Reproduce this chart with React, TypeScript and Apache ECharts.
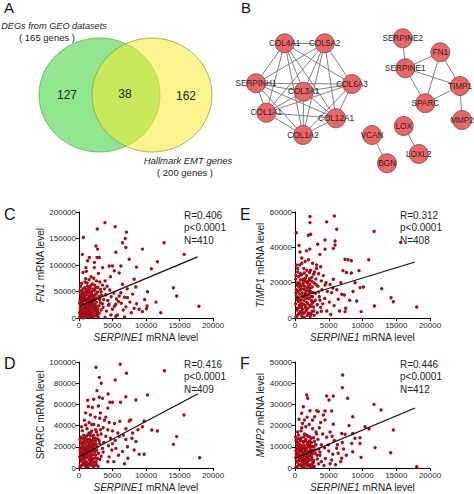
import React, { useEffect, useRef } from "react";
import * as echarts from "echarts";

const FONT = 'Arial, "Liberation Sans", Helvetica, sans-serif';

// ---------- Panel A: Venn ----------
const vennLeftTitle = "DEGs from GEO datasets";
const vennLeftSub = "( 165 genes )";
const vennRightTitle = "Hallmark EMT genes";
const vennRightSub = "( 200 genes )";
const vennCounts = [127, 38, 162];

// ---------- Panel B: network ----------
const nodeNames = ["COL4A1", "COL5A2", "SERPINH1", "COL3A1", "COL6A3", "COL1A1", "COL12A1", "COL1A2", "SERPINE2", "FN1", "SERPINE1", "TIMP1", "SPARC", "MMP2", "LOX", "LOXL2", "VCAN", "BGN"];
const nodeX = [284.7, 324.7, 256, 303.7, 352, 266.3, 336, 303, 402.7, 440.3, 405.3, 460, 425.3, 462, 403.7, 418.7, 372, 387];
const nodeY = [43.3, 43.3, 83.3, 91.7, 84, 112.7, 118.3, 135, 38.3, 52.3, 68.3, 86, 103.3, 120, 126, 154, 135, 163.3];
const edges: [string, string][] = [
  ["COL4A1", "COL5A2"], ["COL4A1", "SERPINH1"], ["COL4A1", "COL3A1"], ["COL4A1", "COL6A3"], ["COL4A1", "COL1A1"], ["COL4A1", "COL12A1"], ["COL4A1", "COL1A2"],
  ["COL5A2", "SERPINH1"], ["COL5A2", "COL3A1"], ["COL5A2", "COL6A3"], ["COL5A2", "COL1A1"], ["COL5A2", "COL12A1"], ["COL5A2", "COL1A2"],
  ["SERPINH1", "COL3A1"], ["SERPINH1", "COL6A3"], ["SERPINH1", "COL1A1"], ["SERPINH1", "COL12A1"], ["SERPINH1", "COL1A2"],
  ["COL3A1", "COL6A3"], ["COL3A1", "COL1A1"], ["COL3A1", "COL12A1"], ["COL3A1", "COL1A2"],
  ["COL6A3", "COL1A1"], ["COL6A3", "COL12A1"], ["COL6A3", "COL1A2"],
  ["COL1A1", "COL12A1"], ["COL1A1", "COL1A2"], ["COL12A1", "COL1A2"],
  ["SERPINE2", "SERPINE1"], ["SERPINE1", "FN1"], ["SERPINE1", "TIMP1"], ["SERPINE1", "SPARC"],
  ["FN1", "SPARC"], ["FN1", "TIMP1"], ["TIMP1", "SPARC"], ["TIMP1", "MMP2"],
  ["LOX", "LOXL2"], ["VCAN", "BGN"],
];

// ---------- Panels C-F: scatter (x = SERPINE1 mRNA level) ----------
const xTicksMax = 20000;
const xTickStep = 5000;

const fn1Points: [number, number][] = [
  [3870,180000],[2730,168000],[5400,172000],[7090,162000],[650,152000],[12700,142000],[6900,150000],[6500,142000],[9470,130000],[15700,120000],[7000,133000],[5500,124000],[2530,136000],[2780,130000],[3030,114000],[2680,114000],[7490,111000],[11700,106000],[10800,93000],[8580,96000],[1540,114000],[1290,108000],[1040,95000],[5000,98000],[4510,98000],[6250,98000],[5260,89000],[3520,95000],[2280,95000],[8230,73000],[8480,58500],[10220,49700],[14090,57200],[14580,41500],[17900,22000],[6500,63500],[6000,41500],[7240,38400],[8230,18200],[10170,22600],[10070,17600],[8980,16400],[9470,12000],[4760,5700],[5750,5700],[5000,16400],[5500,25800],[6250,47800],
  [1800,78000],[2200,75000],[1500,72000],[2600,70000],[3100,68000],[1200,66000],[2000,64000],[3500,62000],[4200,60000],[2800,58000],[1600,56000],[3800,55000],[4600,53000],[2300,52000],[1000,50000],[3300,49000],[5200,47000],[2600,46000],[4000,44000],[1900,43000],[3000,41000],[4800,40000],[6800,39000],[5600,36000],[2400,37000],[3700,35000],[1400,38000],[4300,33000],[5900,31000],[7600,30000],[3200,29000],[6300,28000],[8600,27000],[2000,30000],[4500,26000],[5300,22000],[7000,21000],[3600,20000],[6600,15000],[4100,13000],[7800,10000],[3000,9000],[5500,3000],[6800,2000],[2500,4000],[3900,1500],[4400,24000],[3400,43000],[2900,84000],[1100,88000],[600,86000],[4700,78000],[3900,70000],[2300,105000],[500,120000],[6000,85000],[7200,55000],[9800,35000],[11500,30000],[12200,10000],[8000,45000],
  [200,2000],[500,4000],[800,1000],[1100,3000],[300,7000],[700,9000],[1300,6000],[1600,2000],[400,12000],[900,14000],[1200,11000],[1500,9000],[1800,5000],[2100,3000],[200,16000],[600,18000],[1000,20000],[1400,17000],[1700,13000],[2000,10000],[2300,7000],[300,23000],[700,25000],[1100,27000],[1500,22000],[1900,19000],[2200,15000],[2500,12000],[100,28000],[500,31000],[900,33000],[1300,30000],[1700,26000],[2100,24000],[2400,20000],[400,36000],[800,39000],[1200,36000],[1600,34000],[2000,37000],[100,10000],[150,5000],[600,500],[1000,8000],[1400,13500],[1800,29000],[2600,30000],[2800,17000],[3000,23000],[2700,5000],[300,45000],[700,42000],[1100,44000],[1500,47000],[1900,50000],[600,55000],[1300,60000],[900,68000],[200,60000],[2500,57000],
  [150,1000],[450,2500],[750,5500],[1050,1200],[1350,4500],[1650,7500],[1950,1800],[2250,4800],[2550,8500],[2850,2200],[350,9500],[650,12500],[950,16500],[1250,19000],[1550,15500],[1850,11500],[2150,18500],[2450,16000],[2750,13000],[250,21000],[550,26000],[850,23000],[1150,24500],[1450,27500],[1750,21500],[2050,28000],[2350,25500],[2650,22000],[150,33000],[450,28000],[750,35000],[1050,31500],[1350,33500],[1650,39500],[1950,32500],[2250,34000],[2550,38000],[350,40000],[650,47000],[950,43000],[1250,49000],[1550,41000],[1850,45500],[2150,41500],[2450,44500],[150,52000],[450,50000],[850,57000],[1150,54000],[1450,52500],[1750,61000],[2050,55000],[2350,62000],[2750,49000],[3100,35000],[3300,15000],[3500,27000],[3200,54000],[400,65000],[1000,74000],
];
const fn1Fit: [number, number][] = [[200, 22900], [17700, 115400]];

const timp1Points: [number, number][] = [
  [5830,57700],[2220,57400],[2220,54000],[4690,54400],[6180,50200],[11720,49000],[200,48300],[15660,42800],[1980,46800],[2320,47400],[3360,41700],[740,37400],[4450,44200],[5930,43600],[5930,41300],[5680,39400],[4450,38900],[7850,33000],[8350,32400],[10920,33000],[7110,26800],[7610,25800],[8350,25500],[9480,26800],[7410,33200],[9640,17200],[10130,17500],[8900,20000],[12840,16600],[14230,11500],[14570,9200],[18030,6200],[11760,6800],[9790,3600],[7510,5500],[7410,3600],[9140,9600],[6420,10600],[5430,14300],[6920,13400],[4450,18700],[5680,21900],
  [1000,34000],[1500,32000],[2000,33000],[2600,31000],[3200,30000],[3800,29000],[700,30000],[1300,28000],[2300,27000],[2900,26000],[3500,25000],[4200,24000],[800,25000],[1700,24000],[2500,23000],[3100,22000],[3900,21000],[4600,20000],[5200,19000],[1200,22000],[2000,21000],[2800,20000],[3400,18000],[4000,16000],[4800,15000],[5600,17000],[6200,16000],[3000,14000],[3600,12000],[4400,11000],[5100,9000],[5800,7000],[6600,4000],[3800,6000],[4700,4000],[5300,2000],[3300,3000],[4100,8000],[2700,9000],[6800,20000],[7300,13000],[8100,10000],[8600,15000],[3700,36000],[2200,39000],[600,41000],[1700,38000],
  [200,1000],[600,2500],[1000,1000],[1400,3000],[1800,1500],[2200,2500],[300,4500],[700,6000],[1100,5000],[1500,7000],[1900,5500],[2300,6500],[100,8000],[500,9500],[900,8500],[1300,10000],[1700,9000],[2100,11000],[2500,8000],[300,12000],[700,13500],[1100,12500],[1500,14000],[1900,13000],[2300,15000],[200,16000],[600,17500],[1000,16500],[1400,18000],[1800,17000],[2200,19000],[400,20000],[800,21500],[1200,19500],[1600,20500],[100,22000],[2600,12000],[2800,4000],[3000,10000],[400,26000],[200,30000],[1000,3500],[1600,11500],[2000,15500],[2400,2000],
  [150,500],[450,1800],[750,3500],[1050,2200],[1350,500],[1650,4200],[1950,2800],[2250,900],[2550,3800],[2850,1500],[350,5500],[650,7200],[950,6500],[1250,7800],[1550,5800],[1850,8200],[2150,7100],[2450,9800],[2750,6200],[250,10500],[550,11300],[850,10200],[1150,11800],[1450,12800],[1750,11200],[2050,13800],[2350,12200],[2650,14500],[150,14000],[450,15000],[750,15800],[1050,14200],[1350,16200],[1650,15300],[1950,17800],[2250,16800],[2550,17500],[350,18500],[650,19500],[950,18200],[1250,21000],[1550,22500],[1850,19800],[2150,22200],[2450,20800],[150,24000],[550,23500],[950,24500],[1350,25500],[1750,27000],[2150,25800],[2750,24800],[3100,19000],[3300,7500],[3500,14800],[3200,28000],[400,28000],[1000,31000],[3700,10000],[3900,3800],
];
const timp1Fit: [number, number][] = [[200, 11200], [17780, 31700]];

const sparcPoints: [number, number][] = [
  [2530,95000],[6150,97800],[7090,89300],[12750,91800],[3030,85500],[5410,83000],[3320,79900],[2680,73000],[4360,69800],[3030,66700],[3520,65700],[10220,68900],[8480,64200],[6990,67300],[15670,50000],[2200,64800],[1300,64000],[2000,57000],[1400,58000],[2900,58500],[4300,56500],[4600,62000],[5000,62000],[6200,62000],[7490,44300],[7700,45300],[9720,44300],[9470,39000],[10860,35900],[11700,34900],[14580,29600],[14090,22300],[18000,9700],[9720,12900],[8980,12900],[8230,17000],[7240,20100],[6990,27000],[6000,29600],[5000,23000],[5500,18500],[6500,15500],[7300,9200],[4500,10500],[4300,6000],
  [1000,52000],[1700,50000],[2400,48000],[3100,47000],[3800,45000],[4500,43000],[5300,42000],[6100,44000],[800,45000],[1500,43000],[2200,41000],[2900,40000],[3600,38000],[4300,36000],[5000,35000],[5800,33000],[6600,31000],[1200,37000],[1900,35000],[2600,34000],[3300,32000],[4000,30000],[4700,28000],[5400,26000],[7000,37000],[8000,33000],[8500,25000],[3000,26000],[3700,24000],[4400,21000],[5900,12000],[6800,4000],[5200,6000],[3600,15000],[2800,31000],[7900,28000],[4900,17000],[8800,36000],[3200,52000],[4000,48000],
  [200,2000],[600,4000],[1000,1500],[1400,3500],[1800,2500],[2200,1000],[300,6500],[700,8000],[1100,6000],[1500,8500],[1900,7000],[2300,5500],[100,10500],[500,12000],[900,11000],[1300,13000],[1700,11500],[2100,12500],[2500,9500],[300,15000],[700,16500],[1100,15500],[1500,17000],[1900,16000],[2300,18000],[200,19500],[600,21000],[1000,20000],[1400,22000],[1800,21000],[2200,23000],[400,24500],[800,26000],[1200,25000],[1600,27000],[2000,26000],[2400,28000],[300,29000],[700,31000],[1100,30000],[2700,20000],[2900,14000],[3100,8000],[2600,3000],[1500,33000],[500,35000],[1700,30500],[1300,18500],[800,3000],[2000,19000],
  [150,1000],[450,2500],[750,5500],[1050,3200],[1350,1200],[1650,5200],[1950,3800],[2250,2200],[2550,6000],[2850,1500],[350,8500],[650,10000],[950,9200],[1250,10800],[1550,7800],[1850,9800],[2150,8800],[2450,12200],[2750,9000],[250,13200],[550,14200],[850,13500],[1150,14800],[1450,15800],[1750,14200],[2050,17500],[2350,15200],[2650,16800],[150,17500],[450,18500],[750,19000],[1050,18000],[1350,20500],[1650,19200],[1950,22500],[2250,20500],[2550,22500],[350,22800],[650,24000],[950,23000],[1250,27000],[1550,24200],[1850,25000],[2150,28500],[2450,25500],[150,27000],[550,28000],[950,28800],[1350,31500],[1750,33500],[2150,31000],[2750,27500],[3100,23000],[3300,11000],[3500,18500],[3200,36000],[400,39000],[1000,40500],[1900,41000],[2500,36000],
];
const sparcFit: [number, number][] = [[200, 11000], [17760, 70000]];

const mmp2Points: [number, number][] = [
  [7060,43900],[7010,37900],[1730,34400],[1880,32900],[4690,34000],[5680,34000],[5040,32100],[7800,32900],[11700,30000],[12740,27400],[1240,28900],[990,25800],[2220,27000],[3210,27000],[3460,26600],[4450,26900],[5430,26900],[4200,25000],[4450,22600],[8550,24200],[2900,24200],[1400,22600],[10370,19500],[10960,18400],[14570,17900],[5680,20600],[6920,16300],[7410,15900],[8550,16300],[9630,14300],[9630,11600],[8890,14000],[8400,11600],[11860,9600],[14180,7200],[18030,600],[9780,5000],[8550,7700],[6920,4600],[6770,3000],[5430,3800],[6170,9300],[4940,10900],
  [600,23000],[1100,21000],[1600,19500],[2100,20500],[2600,18500],[3100,17000],[3600,19000],[4100,16000],[4700,14500],[5200,17000],[5800,13000],[6300,11000],[900,17500],[1400,16000],[1900,15000],[2400,14000],[2900,12500],[3400,13500],[3900,11000],[4400,9500],[5000,8000],[5600,6500],[6400,7000],[7200,9000],[7600,6000],[3000,8500],[3700,6000],[4500,4500],[5200,2000],[6000,1500],[2600,22500],[3800,21500],[1800,24000],[5500,15000],[8000,20000],[4300,1200],[7000,12000],
  [200,500],[600,1500],[1000,700],[1400,1800],[1800,900],[2200,1600],[2600,600],[300,2800],[700,3500],[1100,2800],[1500,3900],[1900,3100],[2300,3700],[2700,2500],[100,4800],[500,5500],[900,4800],[1300,6000],[1700,5200],[2100,5900],[2500,4900],[300,7000],[700,7800],[1100,7000],[1500,8200],[1900,7500],[2300,8300],[200,9200],[600,10000],[1000,9400],[1400,10600],[1800,9800],[2200,11000],[400,12000],[800,13000],[1200,12500],[1600,13500],[2000,12200],[2800,10000],[3000,6800],[3300,4200],[3500,2000],[2700,7000],[100,14500],[500,15500],[1300,4000],
  [150,300],[450,900],[750,1700],[1050,1300],[1350,300],[1650,2300],[1950,1400],[2250,500],[2550,2000],[2850,700],[350,3300],[650,4200],[950,3600],[1250,4500],[1550,3000],[1850,4600],[2150,4200],[2450,5500],[2750,3500],[250,6000],[550,6500],[850,5900],[1150,6600],[1450,7300],[1750,6400],[2050,7900],[2350,7000],[2650,8400],[150,8000],[450,8700],[750,9000],[1050,8200],[1350,9300],[1650,8800],[1950,10300],[2250,9600],[2550,10100],[350,10700],[650,11300],[950,10500],[1250,12000],[1550,12700],[1850,11400],[2150,12800],[2450,12000],[150,13000],[550,13800],[950,14200],[1350,14800],[1750,15500],[2150,14800],[2750,14300],[3100,11000],[3300,6000],[3500,9000],[3200,16000],[400,17000],[1000,19000],[3700,7500],[3900,3000],
];
const mmp2Fit: [number, number][] = [[200, 4800], [17780, 28300]];

const panels = [
  { letter: "C", gene: "FN1", italic: true, yMax: 200000, yStep: 50000, points: fn1Points, fit: fn1Fit, stats: ["R=0.406", "p<0.0001", "N=410"] },
  { letter: "E", gene: "TIMP1", italic: true, yMax: 60000, yStep: 20000, points: timp1Points, fit: timp1Fit, stats: ["R=0.312", "p<0.0001", "N=408"] },
  { letter: "D", gene: "SPARC", italic: false, yMax: 100000, yStep: 20000, points: sparcPoints, fit: sparcFit, stats: ["R=0.416", "p<0.0001", "N=409"] },
  { letter: "F", gene: "MMP2", italic: true, yMax: 50000, yStep: 10000, points: mmp2Points, fit: mmp2Fit, stats: ["R=0.446", "p<0.0001", "N=412"] },
];

// layout (pixels)
const gridBoxes = [
  { left: 79, top: 212, width: 134, height: 106, nameGap: 32, statX: 184, statY: 209 },
  { left: 295, top: 212, width: 135, height: 106, nameGap: 28, statX: 400, statY: 209 },
  { left: 79, top: 362, width: 134, height: 106, nameGap: 31, statX: 184, statY: 358 },
  { left: 295, top: 362, width: 135, height: 106, nameGap: 28, statX: 400, statY: 358 },
];
const letterPos = [[4, 206], [240, 206], [4, 355], [240, 355]];

export default function App() {
  const ref = useRef<HTMLDivElement>(null);
  useEffect(() => {
    if (!ref.current) return;
    const chart = echarts.init(ref.current, undefined, { renderer: "svg" });

    const nameStyle = {
      fontSize: 10, color: "#222", fontFamily: FONT,
      rich: { i: { fontStyle: "italic", fontSize: 10, color: "#222", fontFamily: FONT }, n: { fontSize: 10, color: "#222", fontFamily: FONT } },
    };
    const axisCommon = {
      axisLine: { show: true, lineStyle: { color: "#000", width: 1 } },
      axisTick: { show: true, length: 3, lineStyle: { color: "#000", width: 1 } },
      axisLabel: { fontSize: 8, color: "#222", margin: 3, fontFamily: FONT, formatter: (v: number) => String(v) },
      splitLine: { show: false },
    };

    const grids: any[] = [{ left: 0, top: 0, width: 474, height: 494, show: false }];
    const xAxes: any[] = [{ gridIndex: 0, type: "value", min: 0, max: 474, show: false }];
    const yAxes: any[] = [{ gridIndex: 0, type: "value", min: 0, max: 494, inverse: true, show: false }];
    const series: any[] = [];
    const graphics: any[] = [];

    panels.forEach((p, i) => {
      const b = gridBoxes[i];
      const gi = i + 1;
      grids.push({ left: b.left, top: b.top, width: b.width, height: b.height, show: false });
      xAxes.push({
        gridIndex: gi, type: "value", min: 0, max: xTicksMax, interval: xTickStep,
        name: "{i|SERPINE1}{n| mRNA level}", nameLocation: "middle", nameGap: 14, nameTextStyle: nameStyle,
        ...axisCommon,
      });
      yAxes.push({
        gridIndex: gi, type: "value", min: 0, max: p.yMax, interval: p.yStep,
        name: p.italic ? `{i|${p.gene}}{n| mRNA level}` : `{n|${p.gene} mRNA level}`,
        nameLocation: "middle", nameRotate: 90, nameGap: b.nameGap, nameTextStyle: nameStyle,
        ...axisCommon,
      });
      series.push({
        type: "scatter", xAxisIndex: gi, yAxisIndex: gi, data: p.points,
        symbolSize: 3.4, itemStyle: { color: "#a50d16", opacity: 1 }, silent: true, z: 2,
      });
      series.push({
        type: "line", xAxisIndex: gi, yAxisIndex: gi, data: p.fit, symbol: "none",
        lineStyle: { color: "#111", width: 1.2 }, silent: true, z: 3,
      });
      graphics.push({
        type: "text", left: b.statX, top: b.statY,
        style: { text: p.stats.join("\n"), font: `10px ${FONT}`, fill: "#222", lineHeight: 12.5 },
      });
      graphics.push({
        type: "text", left: letterPos[i][0], top: letterPos[i][1],
        style: { text: p.letter, font: `16px ${FONT}`, fill: "#111" },
      });
    });

    // network (graph on the hidden pixel grid)
    series.push({
      type: "graph", coordinateSystem: "cartesian2d", xAxisIndex: 0, yAxisIndex: 0,
      layout: "none", symbolSize: 19, silent: true, z: 5,
      itemStyle: { color: "#f06464", borderColor: "#555", borderWidth: 0.8 },
      lineStyle: { color: "#7f7f7f", width: 1, opacity: 1, curveness: 0 },
      label: { show: true, position: "inside", fontSize: 8.2, color: "#262626", fontFamily: FONT },
      data: nodeNames.map((n, k) => ({ name: n, value: [nodeX[k], nodeY[k]] })),
      links: edges.map(([s, t]) => ({ source: s, target: t })),
    });

    // Venn diagram (panel A)
    graphics.push(
      { type: "text", left: 4, top: 0, style: { text: "A", font: `15px ${FONT}`, fill: "#111" } },
      { type: "text", left: 241, top: 0, style: { text: "B", font: `15px ${FONT}`, fill: "#111" } },
      { type: "ellipse", shape: { cx: 99.5, cy: 95, rx: 60.5, ry: 57 }, style: { fill: "#8fe68f", stroke: "#5fae5f", lineWidth: 0.8 }, z: 1 },
      { type: "ellipse", shape: { cx: 152, cy: 95, rx: 60, ry: 57 }, style: { fill: "rgba(248,235,48,0.55)", stroke: "rgba(150,140,40,0.85)", lineWidth: 0.8 }, z: 2 },
      { type: "text", x: 67, y: 95, z: 3, style: { text: String(vennCounts[0]), font: `12px ${FONT}`, fill: "#222", align: "center", verticalAlign: "middle" } },
      { type: "text", x: 125, y: 94, z: 3, style: { text: String(vennCounts[1]), font: `12px ${FONT}`, fill: "#222", align: "center", verticalAlign: "middle" } },
      { type: "text", x: 186, y: 96, z: 3, style: { text: String(vennCounts[2]), font: `12px ${FONT}`, fill: "#222", align: "center", verticalAlign: "middle" } },
      { type: "text", x: 54, y: 26, z: 3, style: { text: vennLeftTitle, font: `italic 9.2px ${FONT}`, fill: "#222", align: "center", verticalAlign: "middle" } },
      { type: "text", x: 47, y: 37, z: 3, style: { text: vennLeftSub, font: `9.5px ${FONT}`, fill: "#222", align: "center", verticalAlign: "middle" } },
      { type: "text", x: 188, y: 160, z: 3, style: { text: vennRightTitle, font: `italic 9.5px ${FONT}`, fill: "#222", align: "center", verticalAlign: "middle" } },
      { type: "text", x: 185, y: 172, z: 3, style: { text: vennRightSub, font: `9.5px ${FONT}`, fill: "#222", align: "center", verticalAlign: "middle" } },
    );

    chart.setOption({
      animation: false,
      backgroundColor: "#fff",
      textStyle: { fontFamily: FONT },
      grid: grids,
      xAxis: xAxes,
      yAxis: yAxes,
      series,
      graphic: graphics,
    });
    return () => chart.dispose();
  }, []);
  return <div ref={ref} style={{ position: "fixed", left: 0, top: 0, width: 474, height: 494 }} />;
}
